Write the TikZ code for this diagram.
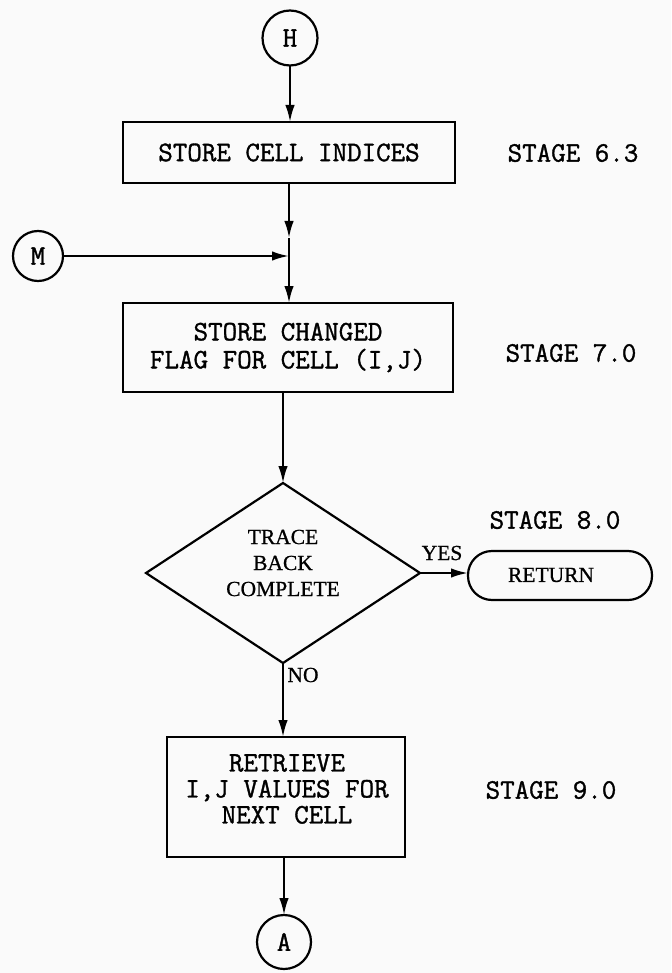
\documentclass[tikz,border=0pt]{standalone}
\usepackage{fontspec}
\newfontfamily\timesf{Liberation Serif}[FakeBold=0.8]
\newfontfamily\typef{Latin Modern Mono}[FakeBold=1.2]
\usetikzlibrary{shapes.geometric,arrows.meta}
\begin{document}
\begin{tikzpicture}[x=1pt,y=-1pt,
  line width=2.2pt,
  every node/.style={inner sep=0pt, outer sep=0pt},
  mono/.style={font=\fontsize{28.2}{26}\typef, align=center},
  serifl/.style={font=\fontsize{21.5}{26}\timesf, align=center},
  box/.style={draw, rectangle},
  conn/.style={draw, circle},
  arr/.style={-{Latex[length=17pt,width=9.5pt]}},
]
\fill[gray!4] (0,0) rectangle (671,973);
\useasboundingbox (0,0) rectangle (671,973);

% connectors (circles)
\node[conn, minimum size=55pt, mono] (H) at (290,38) {H};
\node[conn, minimum size=50pt, mono] (M) at (38,256) {M};
\node[conn, minimum size=54pt, mono] (A) at (284,942) {A};

% boxes
\node[box, mono, minimum width=332pt, minimum height=61pt] (b1) at (289,152.5) {STORE CELL INDICES};
\node[box, mono, font=\fontsize{28.2}{28}\typef, minimum width=330pt, minimum height=89pt] (b2) at (288,347.5) {STORE CHANGED\\FLAG FOR CELL (I,J)};
\node[draw, diamond, minimum width=274pt, minimum height=180pt] (dia) at (283,573) {};
\node[serifl] (diat) at (283,563) {TRACE\\BACK\\COMPLETE};
\node[draw, rectangle, rounded corners=24pt, minimum width=184pt, minimum height=49pt] (ret) at (560,575.5) {};
\node[serifl] (rett) at (551,575) {RETURN};
\node[box, minimum width=238pt, minimum height=120pt] (b3) at (286,797) {};
\node[mono, font=\fontsize{28.2}{26}\typef] (b3t) at (287,789) {RETRIEVE\\I,J VALUES FOR\\NEXT CELL};

% stage labels
\node[mono] (s63) at (573,153) {STAGE 6.3};
\node[mono] (s70) at (571,353) {STAGE 7.0};
\node[mono] (s80) at (555,520) {STAGE 8.0};
\node[mono] (s90) at (551,790) {STAGE 9.0};

% branch labels
\node[serifl] (yes) at (442,553) {YES};
\node[serifl] (no) at (303,675) {NO};

% junction coordinates
\coordinate (mid1) at (289,238);
\coordinate (junc) at (289,256);

% connectors
\draw[arr] (H.south) -- (H.south |- b1.north);
\draw[arr] (b1.south) -- (b1.south |- mid1);
\draw (b1.south |- mid1) -- (junc);
\draw[arr] (M.east) -- (junc);
\draw[arr] (junc) -- (junc |- b2.north);
\draw[arr] (dia.north |- b2.south) -- (dia.north);
\draw[arr] (dia.east) -- (ret.west |- dia.east);
\draw[arr] (dia.south) -- (dia.south |- b3.north);
\draw[arr] (A.north |- b3.south) -- (A.north);
\end{tikzpicture}
\end{document}
